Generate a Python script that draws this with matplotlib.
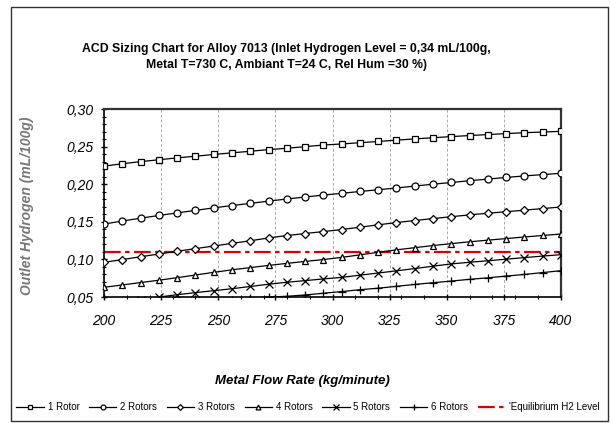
import matplotlib
matplotlib.use("Agg")
import matplotlib.pyplot as plt
from matplotlib.ticker import MultipleLocator, FuncFormatter
from matplotlib.patches import Rectangle
import numpy as np

plt.rcParams['font.family'] = ['Liberation Sans', 'DejaVu Sans']

flow = [200, 208, 216, 224, 232, 240, 248, 256, 264, 272, 280, 288, 296,
        304, 312, 320, 328, 336, 344, 352, 360, 368, 376, 384, 392, 400]

rotor1 = [0.2240, 0.2272, 0.2300, 0.2325, 0.2350, 0.2372, 0.2395, 0.2417, 0.2438,
          0.2460, 0.2478, 0.2499, 0.2521, 0.2535, 0.2552, 0.2568, 0.2586, 0.2602,
          0.2618, 0.2633, 0.2647, 0.2660, 0.2673, 0.2685, 0.2694, 0.2703]
rotor2 = [0.1470, 0.1510, 0.1548, 0.1584, 0.1618, 0.1652, 0.1685, 0.1716, 0.1745,
          0.1775, 0.1803, 0.1830, 0.1855, 0.1879, 0.1903, 0.1926, 0.1950, 0.1975,
          0.2000, 0.2023, 0.2046, 0.2068, 0.2090, 0.2110, 0.2128, 0.2145]
rotor3 = [0.0961, 0.0998, 0.1035, 0.1072, 0.1108, 0.1143, 0.1178, 0.1213, 0.1248,
          0.1285, 0.1317, 0.1344, 0.1370, 0.1397, 0.1428, 0.1460, 0.1490, 0.1517,
          0.1543, 0.1568, 0.1592, 0.1614, 0.1634, 0.1655, 0.1676, 0.1697]
rotor4 = [0.0629, 0.0660, 0.0692, 0.0723, 0.0757, 0.0792, 0.0828, 0.0861, 0.0891,
          0.0920, 0.0947, 0.0973, 0.0998, 0.1027, 0.1060, 0.1095, 0.1127, 0.1156,
          0.1184, 0.1210, 0.1234, 0.1256, 0.1277, 0.1298, 0.1318, 0.1338]
rotor5 = [0.0360, 0.0410, 0.0460, 0.0500, 0.0530, 0.0558, 0.0584, 0.0610, 0.0640,
          0.0670, 0.0696, 0.0718, 0.0740, 0.0761, 0.0790, 0.0819, 0.0848, 0.0878,
          0.0910, 0.0940, 0.0962, 0.0982, 0.1003, 0.1024, 0.1044, 0.1063]
rotor6 = [0.0300, 0.0325, 0.0350, 0.0375, 0.0400, 0.0422, 0.0444, 0.0465, 0.0485,
          0.0500, 0.0509, 0.0527, 0.0550, 0.0572, 0.0597, 0.0617, 0.0642, 0.0667,
          0.0690, 0.0712, 0.0735, 0.0755, 0.0778, 0.0800, 0.0825, 0.0850]
equilibrium = 0.110

labels = ['1 Rotor', '2 Rotors', '3 Rotors', '4 Rotors', '5 Rotors', '6 Rotors',
          "'Equilibrium H2 Level"]
xticks = [200, 225, 250, 275, 300, 325, 350, 375, 400]
yticks = [0.05, 0.10, 0.15, 0.20, 0.25, 0.30]

fig = plt.figure(figsize=(6.10, 4.23), dpi=100)
fig.patches.append(Rectangle((11/610, 2/423), 597/610, 414/423, transform=fig.transFigure,
                             fill=False, edgecolor='#333333', linewidth=1.0))

ax = fig.add_axes([104/610, 1 - 297/423, (561 - 104)/610, (297 - 109)/423])

series = [rotor1, rotor2, rotor3, rotor4, rotor5, rotor6]
markers = ['s', 'o', 'D', '^', 'x', '+']
msizes = [4.5, 5.0, 4.2, 5.0, 5.2, 5.7]
for vals, m, ms, lab in zip(series, markers, msizes, labels[:6]):
    ax.plot(flow, vals, color='black', linewidth=0.9, marker=m, markersize=ms,
            markerfacecolor='white', markeredgecolor='black', markeredgewidth=0.9,
            label=lab, zorder=3)

ax.plot([flow[0], flow[-1]], [equilibrium, equilibrium], color='#dd0000', linewidth=1.6,
        dashes=(7.5, 2, 2, 2), label=labels[6], zorder=2)

ax.set_xlim(200, 400)
ax.set_ylim(0.05, 0.30)
ax.set_xticks(xticks)
ax.set_yticks(yticks)
ax.xaxis.set_minor_locator(MultipleLocator(10))
ax.yaxis.set_minor_locator(MultipleLocator(0.01))
ax.yaxis.set_major_formatter(FuncFormatter(lambda v, p: f"{v:.2f}".replace('.', ',')))
ax.tick_params(axis='both', which='major', length=5, width=1.0, direction='inout',
               labelsize=10)
ax.tick_params(axis='both', which='minor', length=3, width=0.8, direction='inout')
ax.tick_params(axis='x', pad=10)
ax.tick_params(axis='y', pad=5)
for t in ax.get_xticklabels() + ax.get_yticklabels():
    t.set_fontstyle('italic')

ax.grid(axis='x', which='major', color='#aaaaaa', linestyle=(0, (3, 2)), linewidth=0.7)
for s in ['top', 'right']:
    ax.spines[s].set_linewidth(1.6)
    ax.spines[s].set_color('#333333')
for s in ['left', 'bottom']:
    ax.spines[s].set_linewidth(1.2)

fig.text(286/610, 1 - 57/423,
         "ACD Sizing Chart for Alloy 7013 (Inlet Hydrogen Level = 0,34 mL/100g,\n"
         "Metal T=730 C, Ambiant T=24 C, Rel Hum =30 %)",
         ha='center', va='center', fontsize=8.8, fontweight='bold', linespacing=1.55)

fig.text(302/610, 1 - 381/423, "Metal Flow Rate (kg/minute)", ha='center', va='center',
         fontsize=9.5, fontweight='bold', fontstyle='italic')

fig.text(27/610, 1 - 206/423, "Outlet Hydrogen (mL/100g)", ha='center', va='center',
         rotation=90, fontsize=10, fontweight='bold', fontstyle='italic', color='#777777')

handles, labs = ax.get_legend_handles_labels()
fig.legend(handles, labs, loc='center', bbox_to_anchor=(308/610, 1 - 407/423), ncol=7,
           frameon=False, fontsize=7, handlelength=2.8, handletextpad=0.4,
           columnspacing=1.0, markerscale=0.7)

fig.savefig('out.png', dpi=100)
